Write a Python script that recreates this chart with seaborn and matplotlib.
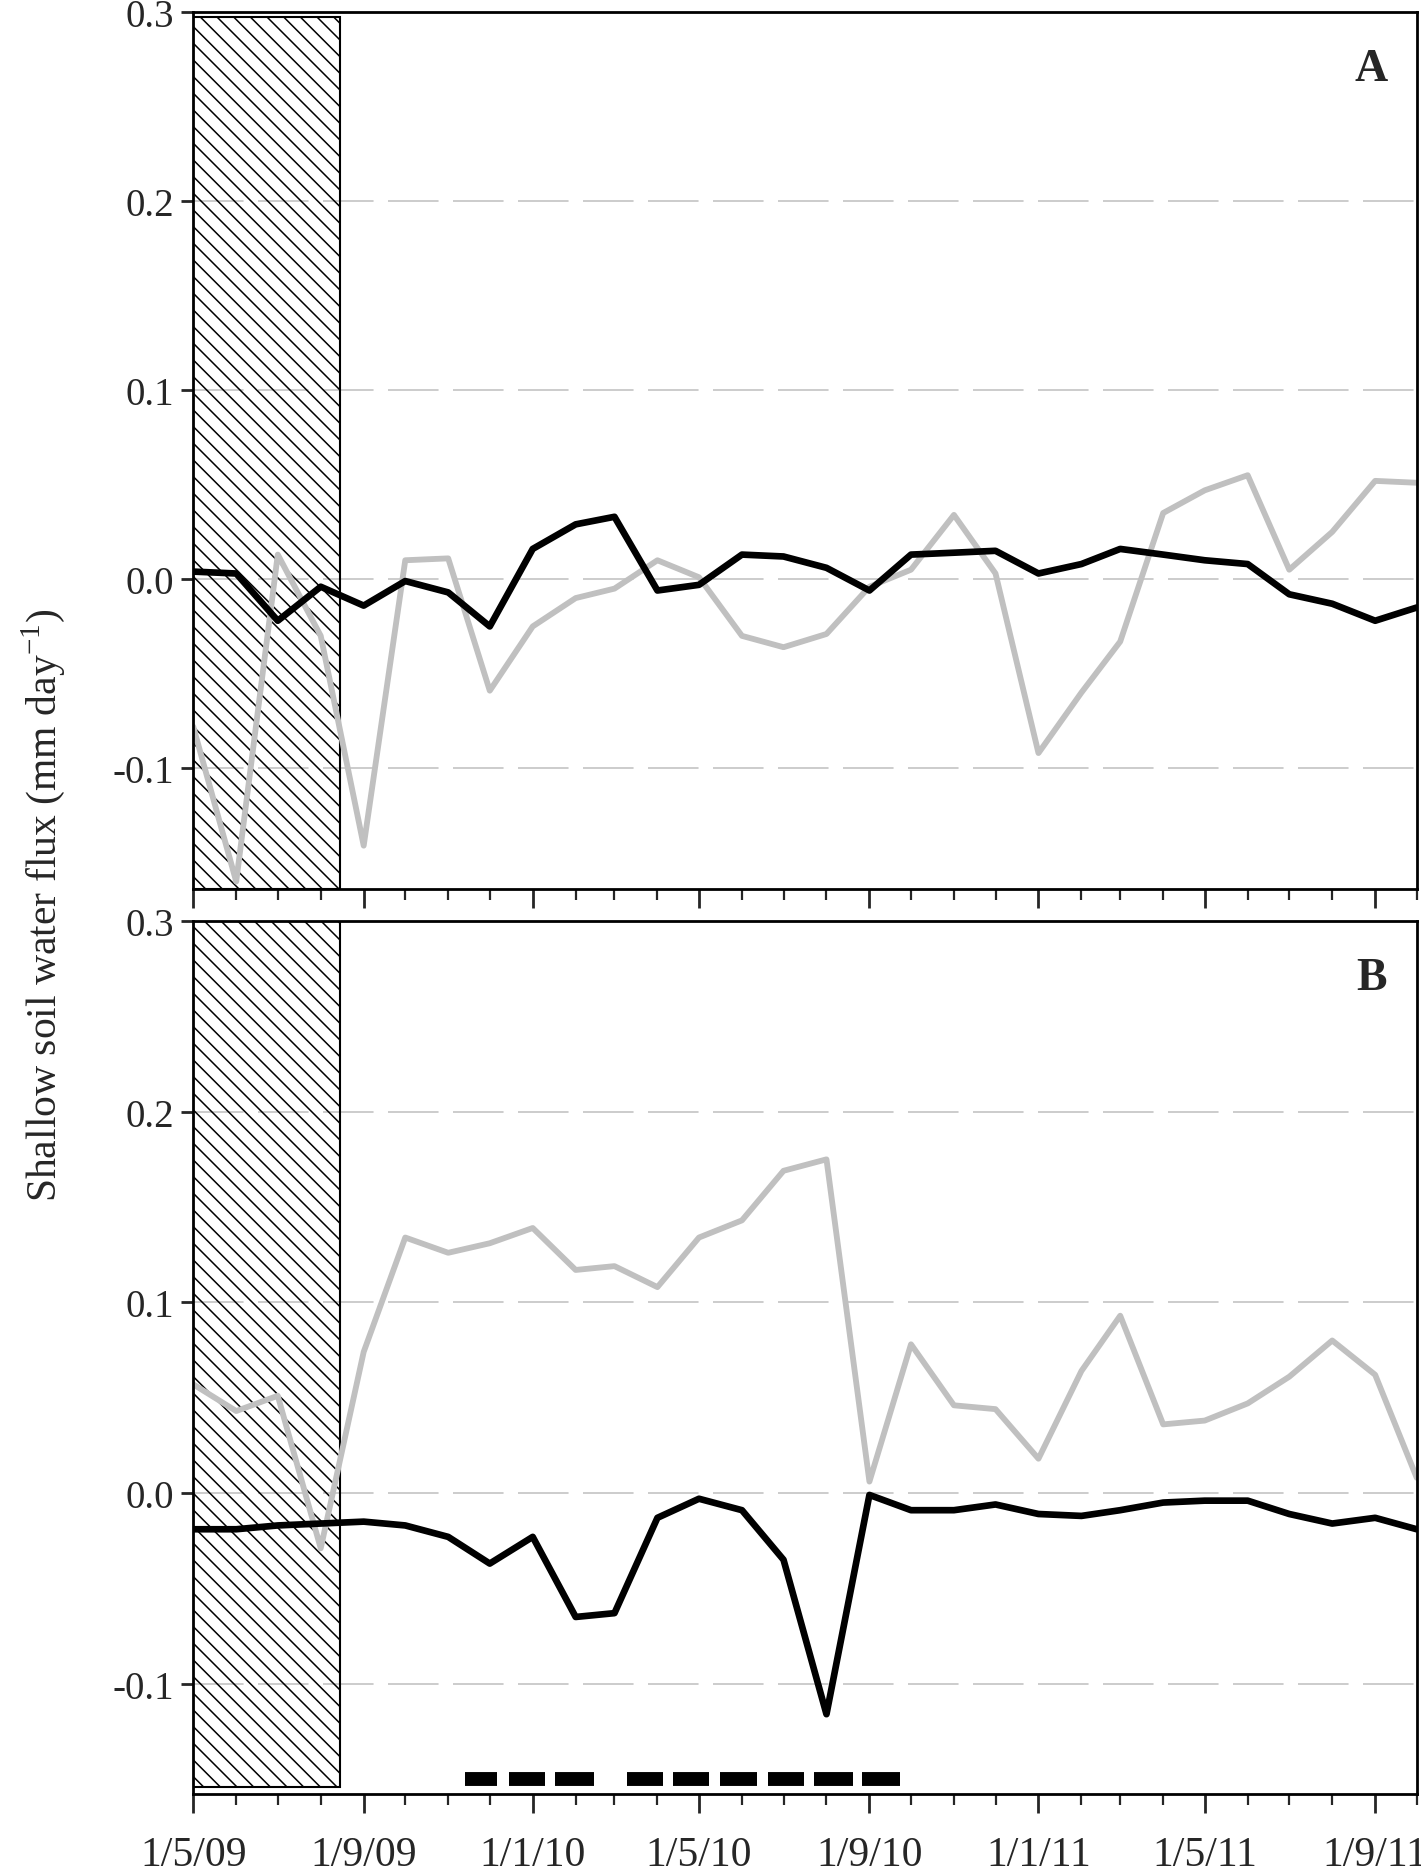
import pandas as pd
import matplotlib
matplotlib.use("Agg")
import matplotlib.pyplot as plt
import matplotlib.dates as mdates
import seaborn as sns

# monthly sampling dates (1 May 2009 - 1 Oct 2011)
months = pd.date_range("2009-05-01", "2011-10-01", freq="MS")

# panel A
a_black = [0.004, 0.003, -0.022, -0.004, -0.014, -0.001, -0.007, -0.025, 0.016, 0.029,
           0.033, -0.006, -0.003, 0.013, 0.012, 0.006, -0.006, 0.013, 0.014, 0.015,
           0.003, 0.008, 0.016, 0.013, 0.010, 0.008, -0.008, -0.013, -0.022, -0.015]
a_gray = [-0.078, -0.160, 0.013, -0.030, -0.141, 0.010, 0.011, -0.059, -0.025, -0.010,
          -0.005, 0.010, 0.001, -0.030, -0.036, -0.029, -0.004, 0.005, 0.034, 0.003,
          -0.092, -0.060, -0.033, 0.035, 0.047, 0.055, 0.005, 0.025, 0.052, 0.051]

# panel B
b_black = [-0.019, -0.019, -0.017, -0.016, -0.015, -0.017, -0.023, -0.037, -0.023, -0.065,
           -0.063, -0.013, -0.003, -0.009, -0.035, -0.116, -0.001, -0.009, -0.009, -0.006,
           -0.011, -0.012, -0.009, -0.005, -0.004, -0.004, -0.011, -0.016, -0.013, -0.019]
b_gray = [0.057, 0.043, 0.051, -0.029, 0.074, 0.134, 0.126, 0.131, 0.139, 0.117,
          0.119, 0.108, 0.134, 0.143, 0.169, 0.175, 0.006, 0.078, 0.046, 0.044,
          0.018, 0.064, 0.093, 0.036, 0.038, 0.047, 0.061, 0.080, 0.062, 0.008]

# hatched period and black bars at the bottom of panel B
hatch_start, hatch_end = "2009-05-01", "2009-08-15"
bar_starts = ["2009-11-13", "2009-12-15", "2010-01-17", "2010-03-10", "2010-04-12",
              "2010-05-16", "2010-06-20", "2010-07-23", "2010-08-27"]
bar_ends = ["2009-12-06", "2010-01-10", "2010-02-14", "2010-04-05", "2010-05-08",
            "2010-06-12", "2010-07-16", "2010-08-20", "2010-09-23"]
bar_level = -0.150

sns.set_style("ticks")
plt.rcParams['font.family'] = ['Liberation Serif', 'DejaVu Serif']
plt.rcParams['mathtext.fontset'] = 'custom'
plt.rcParams['mathtext.rm'] = 'Liberation Serif'
plt.rcParams['hatch.linewidth'] = 1.1

fig = plt.figure(figsize=(14.21, 18.74), dpi=100)
axA = fig.add_axes([0.136, 0.525, 0.861, 0.468])
axB = fig.add_axes([0.136, 0.042, 0.861, 0.466])

panels = [(axA, a_black, a_gray, "A", (-0.164, 0.3), 0.995, 0.0),
          (axB, b_black, b_gray, "B", (-0.158, 0.3), 1.0, 0.008)]

for ax, blk, gry, lab, ylim, hmax, hmin in panels:
    df = pd.DataFrame({"date": months, "black": blk, "gray": gry})
    for yv in [0.2, 0.1, 0.0, -0.1]:
        ax.axhline(yv, color="#c8c8c8", lw=1.3, dashes=(28, 8), zorder=0)
    ax.axvspan(pd.Timestamp(hatch_start), pd.Timestamp(hatch_end), ymin=hmin, ymax=hmax,
               facecolor="none", edgecolor="black", hatch="\\\\", lw=1.5, zorder=1)
    sns.lineplot(data=df, x="date", y="gray", ax=ax, color="#c0c0c0", lw=4.2, zorder=2)
    sns.lineplot(data=df, x="date", y="black", ax=ax, color="black", lw=4.8, zorder=3)
    ax.set_xlim(months[0], months[-1])
    ax.set_ylim(*ylim)
    ax.set_yticks([-0.1, 0.0, 0.1, 0.2, 0.3])
    ax.set_yticklabels(["-0.1", "0.0", "0.1", "0.2", "0.3"])
    ax.xaxis.set_major_locator(mdates.MonthLocator(bymonth=[1, 5, 9]))
    ax.xaxis.set_minor_locator(mdates.MonthLocator())
    ax.xaxis.set_major_formatter(mdates.DateFormatter("1/%-m/%y"))
    ax.tick_params(axis="y", direction="out", length=9, width=2, labelsize=28, pad=5)
    ax.tick_params(axis="x", which="major", direction="out", length=14, width=2,
                   labelsize=30, pad=16)
    ax.tick_params(axis="x", which="minor", direction="out", length=8, width=1.6)
    for sp in ax.spines.values():
        sp.set_linewidth(2)
        sp.set_color("black")
    ax.set_xlabel("")
    ax.set_ylabel("")
    ax.text(0.963, 0.935, lab, transform=ax.transAxes, fontsize=33, fontweight="bold",
            ha="center", va="center")

axA.tick_params(axis="x", labelbottom=False)

for s, e in zip(bar_starts, bar_ends):
    axB.plot([pd.Timestamp(s), pd.Timestamp(e)], [bar_level, bar_level], color="black",
             lw=10, solid_capstyle="butt", zorder=4)

fig.text(0.03, 0.517, r"Shallow soil water flux (mm day$^{\mathregular{-1}}$)", rotation=90,
         fontsize=30, ha="center", va="center")

fig.savefig("out.png", dpi=100)
